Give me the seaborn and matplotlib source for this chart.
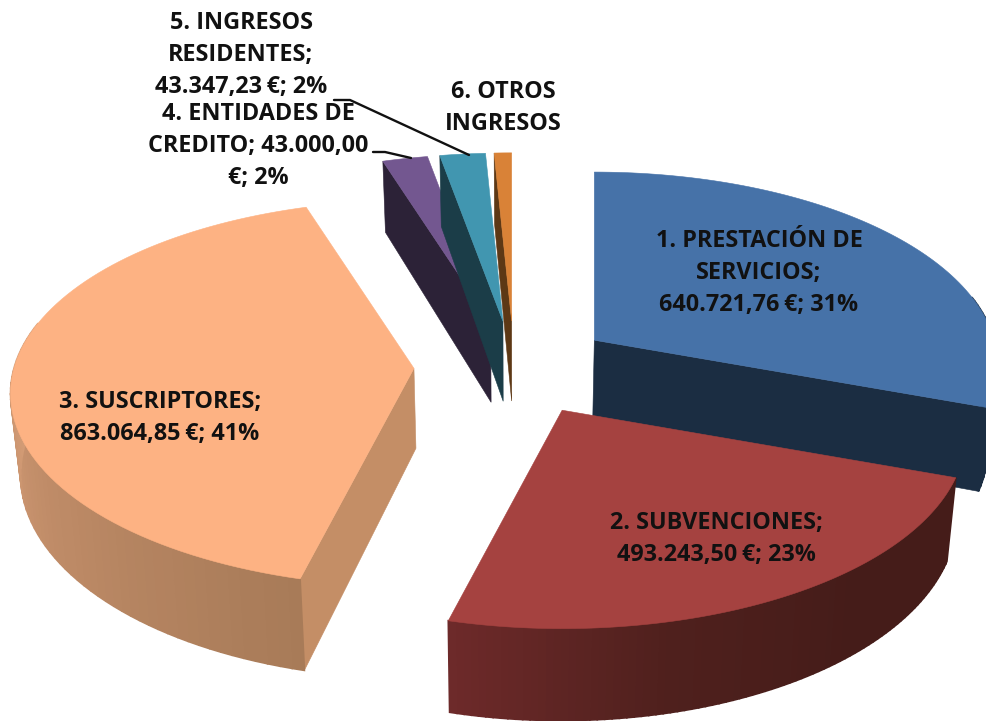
import numpy as np
import matplotlib
matplotlib.use('Agg')
import matplotlib.pyplot as plt
import seaborn as sns

# ===== datos =====
valores = [640721.76, 493243.50, 863064.85, 43000.00, 43347.23, 16500.00]
etiquetas = [
    '1. PRESTACIÓN DE\nSERVICIOS;\n{v}; {p}%',
    '2. SUBVENCIONES;\n{v}; {p}%',
    '3. SUSCRIPTORES;\n{v}; {p}%',
    '4. ENTIDADES DE\nCREDITO; {n}\n€; {p}%',
    '5. INGRESOS\nRESIDENTES;\n{v}; {p}%',
    '6. OTROS\nINGRESOS',
]
C_TOP = ['#4672A8', '#A54240', '#FDB283', '#735790', '#4196B0', '#D98237']
C_CARA = ['#1B2D42', '#451C19', '#C48E66', '#2C2237', '#1B3D48', '#5D3815']
C_PARED = [
    ['#1B2D42', '#1B2D42'],
    ['#451C19', '#451C19', '#4F201D', '#6E2A2A'],
    ['#A87B58', '#C08C68', '#DBA27B'],
    ['#2C2237', '#2C2237'],
    ['#1B3D48', '#1B3D48'],
    ['#5D3815', '#5D3815'],
]
TEXT_POS = [(759, 273), (716, 539), (160, 418), (258, 146), (241, 55), (503, 108)]

# geometria del quesito 3D
CX, CY = 514, 367
R, INCL, PERSP = 400, 0.475, 0.13
EXPLODE, GROSOR, ESCALA_BASE = 0.25, 80, 0.98


def punto(theta, apice, radio=R, base=False):
    u, v = np.sin(theta), np.cos(theta)
    s = 1 / (1 + PERSP * v * radio / R)
    x = apice[0] + radio * u * s
    y = apice[1] - radio * INCL * v * s
    if base:
        x = CX + (x - CX) * ESCALA_BASE
        y = y + GROSOR * s
    return x, y


def poli(ax, pts, color, z, lw=0.4):
    xs, ys = zip(*pts)
    ax.fill(xs, ys, facecolor=color, edgecolor=color, linewidth=lw, zorder=z)


def fmt_es(v):
    return f'{v:,.2f}'.replace(',', 'X').replace('.', ',').replace('X', '.')


sns.set_theme(style='white')
plt.rcParams['font.family'] = ['Open Sans', 'DejaVu Sans']

fig, ax = plt.subplots(figsize=(9.86, 7.21), dpi=100)
ax.set_position([0, 0, 1, 1])
ax.set_xlim(0, 986)
ax.set_ylim(721, 0)
ax.axis('off')

total = sum(valores)
limites = np.cumsum([0] + valores) / total * 2 * np.pi

# orden de dibujo: de atras hacia delante
for orden, i in enumerate([0, 3, 4, 5, 2, 1]):
    t0, t1 = limites[i], limites[i + 1]
    medio = (t0 + t1) / 2
    apice = punto(medio, (CX, CY), radio=R * EXPLODE)
    apice_b = (CX + (apice[0] - CX) * ESCALA_BASE, apice[1] + GROSOR)
    z = 2 + orden * 3
    thetas = np.linspace(t0, t1, 90)

    # cara radial visible
    cara_t = {0: t1, 1: None}.get(i, t0)
    if cara_t is not None:
        poli(ax, [apice, punto(cara_t, apice), punto(cara_t, apice, base=True), apice_b], C_CARA[i], z)

    # pared exterior con degradado
    frente = thetas[np.cos(thetas) < 0.25]
    if i <= 2 and len(frente) > 1:
        pal = sns.blend_palette(C_PARED[i], len(frente))
        for j in range(len(frente) - 1):
            a, b = frente[j], frente[j + 1]
            poli(ax, [punto(a, apice), punto(b, apice), punto(b, apice, base=True),
                      punto(a, apice, base=True)], pal[j], z + 1, lw=1.2)

    # tapa
    poli(ax, [apice] + [punto(t, apice) for t in thetas], C_TOP[i], z + 2)

# lineas guia
ax.plot([334, 350, 469], [100, 100, 155], color='#111111', lw=1.7, zorder=30)
ax.plot([373, 385, 411], [152, 152, 158], color='#111111', lw=1.7, zorder=30)

for v, et, (x, y) in zip(valores, etiquetas, TEXT_POS):
    n = fmt_es(v)
    txt = et.format(v=n + '\u2009€', n=n, p=round(v / total * 100))
    ax.text(x, y, txt, ha='center', va='center', fontsize=16.8, fontweight='bold',
            color='#111111', linespacing=1.42, zorder=40)

plt.savefig('out.png', dpi=100)
